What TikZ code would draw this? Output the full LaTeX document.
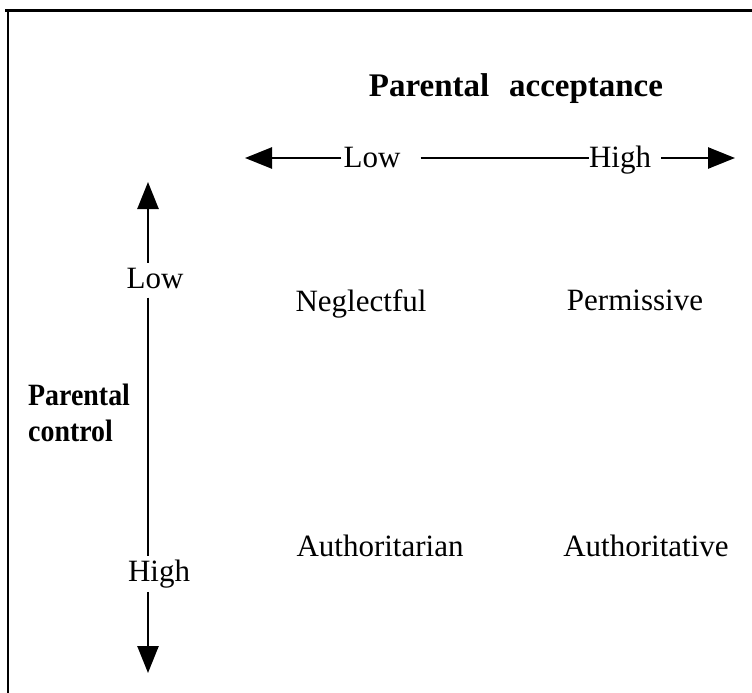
\documentclass[tikz,border=0pt]{standalone}
\usepackage{fontspec}
\setmainfont{Liberation Serif}
\newfontfamily\condserif[FakeStretch=0.9]{Liberation Serif}
\usetikzlibrary{arrows.meta}

\tikzset{
  lbl/.style={inner sep=0pt, font=\fontsize{31}{37}\selectfont},
  heading/.style={inner sep=0pt, font=\bfseries\fontsize{33}{40}\selectfont},
  sidehead/.style={inner sep=0pt, align=left, font=\condserif\bfseries\fontsize{31}{36}\selectfont},
  axis/.style={line width=2.6pt},
  tipped/.style={-{Triangle[length=27pt,width=21pt]}},
  frame/.style={line width=3pt}
}

\begin{document}
\begin{tikzpicture}[x=1pt,y=-1pt]
  \useasboundingbox (0,0) rectangle (752,693);

  % open frame: top rule and left rule
  \draw[frame] (5,11) -- (752,11);
  \draw[line width=2pt] (8,10) -- (8,693);

  % horizontal axis: parental acceptance
  \node[heading, anchor=base] (title) at (516,96) {Parental\hspace{0.6em}acceptance};
  \node[lbl, anchor=base] (hLow) at (372,167) {Low};
  \node[lbl, anchor=base] (hHigh) at (620,167) {High};
  \coordinate (hLtip) at (245,158);
  \coordinate (hRtip) at (735,158);
  \draw[axis, tipped, shorten <=2pt] (hLow.west |- hLtip) -- (hLtip);
  \draw[axis, shorten <=20pt] (hLow.east |- hLtip) -- (hHigh.west |- hLtip);
  \draw[axis, tipped, shorten <=10pt] (hHigh.east |- hRtip) -- (hRtip);

  % vertical axis: parental control
  \coordinate (vTop) at (148,182);
  \coordinate (vBot) at (148,673);
  \node[lbl, anchor=base] (vLow) at (155,288) {Low};
  \node[lbl, anchor=base] (vHigh) at (159,581) {High};
  \draw[axis, tipped, shorten <=5pt] (vLow.north -| vTop) -- (vTop);
  \draw[axis, shorten <=9pt, shorten >=3pt] (vLow.south -| vTop) -- (vHigh.north -| vTop);
  \draw[axis, tipped, shorten <=4pt] (vHigh.south -| vTop) -- (vBot);
  \node[sidehead, anchor=north west] (ctrl) at (28,384) {Parental\\control};

  % the four parenting styles
  \node[lbl, anchor=base] (negl) at (361,311) {Neglectful};
  \node[lbl, anchor=base] (perm) at (635,310) {Permissive};
  \node[lbl, anchor=base] (authn) at (380,556) {Authoritarian};
  \node[lbl, anchor=base] (authv) at (646,556) {Authoritative};
\end{tikzpicture}
\end{document}
